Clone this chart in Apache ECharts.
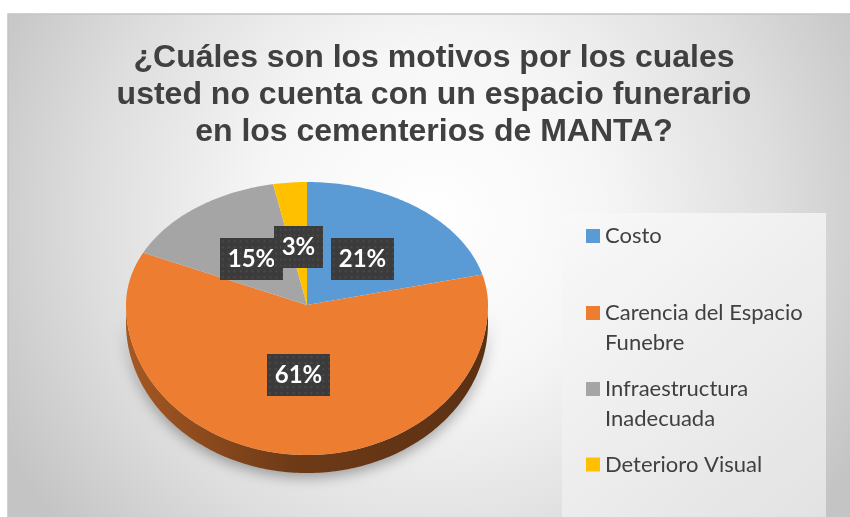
<!DOCTYPE html>
<html>
<head>
<meta charset="utf-8">
<script src="https://cdn.jsdelivr.net/npm/echarts@6/dist/echarts.min.js"></script>
<style>
html, body { margin: 0; padding: 0; background: #fff; }
#chart { width: 850px; height: 517px; }
</style>
</head>
<body>
<div id="chart"></div>
<script>
// datos del gráfico
var titulo = '¿Cuáles son los motivos por los cuales\nusted no cuenta con un espacio funerario\nen los cementerios de MANTA?'
var categorias = ['Costo', 'Carencia del Espacio Funebre', 'Infraestructura Inadecuada', 'Deterioro Visual']
var etiquetasLeyenda = ['Costo', 'Carencia del Espacio\nFunebre', 'Infraestructura\nInadecuada', 'Deterioro Visual']
var porcentajes = [21, 61, 15, 3]
var colores = ['#5B9BD5', '#ED7D31', '#A5A5A5', '#FFC000']

// geometria del pastel inclinado (3D)
var pie = { cx: 307, cy: 305, rx: 181, ryTop: 123, ryBottom: 150, depth: 18 }
var leyendaY = [236, 313, 389, 464.5] // centro del icono de cada item

function suma (a, b) { return a + b }
var total = porcentajes.reduce(suma, 0)

function punto (ang, dy) {
  var c = Math.cos(ang)
  var s = Math.sin(ang)
  var ry = c > 0 ? pie.ryTop : pie.ryBottom
  return [pie.cx + pie.rx * s, pie.cy - ry * c + (dy || 0)]
}

function arco (a0, a1, dy) {
  var pts = []
  var n = Math.max(2, Math.ceil((a1 - a0) / (Math.PI / 180)))
  for (var k = 0; k <= n; k++) pts.push(punto(a0 + (a1 - a0) * k / n, dy))
  return pts
}

function oscurecer (hex, f) {
  var n = parseInt(hex.slice(1), 16)
  var r = Math.round(((n >> 16) & 255) * f)
  var g = Math.round(((n >> 8) & 255) * f)
  var b = Math.round((n & 255) * f)
  return 'rgb(' + r + ',' + g + ',' + b + ')'
}

// trama punteada para las etiquetas
var trama = document.createElement('canvas')
trama.width = 64
trama.height = 42
var ctx = trama.getContext('2d')
ctx.fillStyle = '#3b3b3b'
ctx.fillRect(0, 0, 64, 42)
ctx.fillStyle = '#4a4a4a'
for (var yy = 2; yy < 42; yy += 6) {
  for (var xx = 2; xx < 64; xx += 6) ctx.fillRect(xx, yy, 2, 2)
}

var series = categorias.map(function (nombre, i) {
  var antes = porcentajes.slice(0, i).reduce(suma, 0)
  return {
    name: nombre,
    type: 'custom',
    coordinateSystem: 'none',
    itemStyle: { color: colores[i] },
    data: [{ name: nombre, value: porcentajes[i] }],
    renderItem: function (params, api) {
      var v = api.value(0)
      var a0 = antes / total * 2 * Math.PI
      var a1 = (antes + v) / total * 2 * Math.PI
      var hijos = []
      // cara superior
      hijos.push({
        type: 'polygon',
        z2: 1,
        shape: { points: [[pie.cx, pie.cy]].concat(arco(a0, a1)) },
        style: { fill: colores[i] }
      })
      // lado frontal
      var s0 = Math.max(a0, Math.PI / 2)
      var s1 = Math.min(a1, 1.5 * Math.PI)
      if (s1 > s0) {
        var borde = arco(s0, s1, 0)
        var abajo = arco(s0, s1, pie.depth).reverse()
        hijos.push({
          type: 'polygon',
          z2: 0,
          shape: { points: borde.concat(abajo) },
          style: {
            fill: {
              type: 'linear', x: pie.cx - pie.rx, y: 0, x2: pie.cx + pie.rx, y2: 0, global: true,
              colorStops: [
                { offset: 0, color: oscurecer(colores[i], 0.7) },
                { offset: 0.45, color: oscurecer(colores[i], 0.47) },
                { offset: 1, color: oscurecer(colores[i], 0.38) }
              ]
            },
            shadowBlur: 14,
            shadowColor: 'rgba(0,0,0,0.35)',
            shadowOffsetY: 4
          }
        })
      }
      // etiqueta de porcentaje
      var pm = punto((a0 + a1) / 2)
      hijos.push({
        type: 'text',
        z2: 10 + i,
        x: pie.cx + (pm[0] - pie.cx) * 0.5,
        y: pie.cy + (pm[1] - pie.cy) * 0.47,
        style: {
          text: Math.round(v / total * 100) + '%',
          fontFamily: 'Lato',
          fontWeight: 'bold',
          fontSize: 24,
          lineHeight: 28,
          fill: '#ffffff',
          align: 'center',
          verticalAlign: 'middle',
          backgroundColor: { image: trama },
          padding: [7, 8],
          shadowBlur: 6,
          shadowColor: 'rgba(0,0,0,0.45)',
          shadowOffsetX: 2,
          shadowOffsetY: 2
        }
      })
      return { type: 'group', children: hijos }
    }
  }
})

var leyendas = categorias.map(function (nombre, i) {
  var lineas = etiquetasLeyenda[i].split('\n').length
  // lineas vacias arriba para que el icono quede junto a la primera linea
  var texto = new Array(lineas).join('\n') + etiquetasLeyenda[i]
  return {
    data: [nombre],
    left: 586,
    top: leyendaY[i] - 15 * (2 * lineas - 1),
    padding: 0,
    icon: 'rect',
    itemWidth: 14,
    itemHeight: 14,
    itemGap: 0,
    formatter: function () { return texto },
    textStyle: {
      fontFamily: 'Lato',
      fontSize: 22,
      lineHeight: 30,
      color: '#404040'
    }
  }
})

var chart = echarts.init(document.getElementById('chart'))
chart.setOption({
  animation: false,
  title: {
    text: titulo,
    left: 434,
    top: 40,
    padding: 0,
    textAlign: 'center',
    textStyle: {
      fontFamily: 'Liberation Sans',
      fontWeight: 'bold',
      fontSize: 32,
      lineHeight: 37,
      color: '#404040'
    }
  },
  legend: leyendas,
  graphic: [
    {
      type: 'rect',
      z: -10,
      shape: { x: 8, y: 14, width: 850, height: 510 },
      style: {
        fill: {
          type: 'radial', x: 0.5, y: 0.4, r: 0.95,
          colorStops: [
            { offset: 0, color: '#ffffff' },
            { offset: 0.35, color: '#f6f6f6' },
            { offset: 0.7, color: '#dedede' },
            { offset: 1, color: '#c4c4c4' }
          ]
        },
        stroke: '#c3c3c3',
        lineWidth: 1.5
      }
    },
    {
      type: 'rect',
      z: -9,
      shape: { x: 562, y: 213, width: 264, height: 310 },
      style: {
        fill: {
          type: 'linear', x: 0, y: 0, x2: 1, y2: 1,
          colorStops: [
            { offset: 0, color: '#f9f9f9' },
            { offset: 1, color: '#e2e2e2' }
          ]
        }
      }
    }
  ],
  series: series
})
</script>
</body>
</html>
